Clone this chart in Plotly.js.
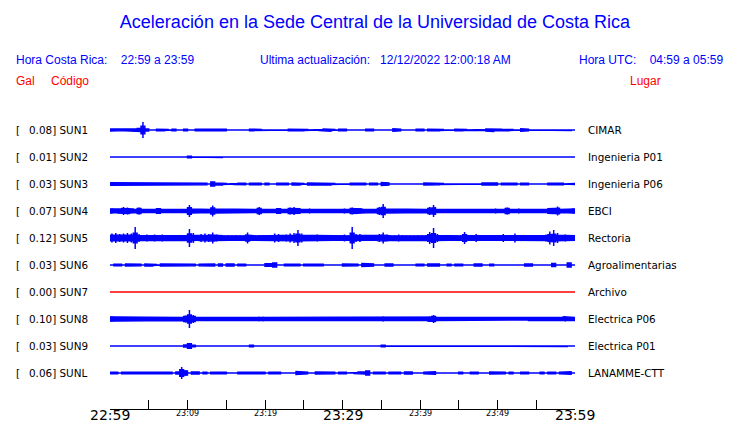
<!DOCTYPE html>
<html>
<head>
<meta charset="utf-8">
<script src="https://cdn.plot.ly/plotly-3.0.1.min.js"></script>
<style>html,body{margin:0;padding:0;background:#fff}#chart{width:740px;height:423px}</style>
</head>
<body>
<div id="chart"></div>
<script>
// ---------------- data ----------------
const stations = ['SUN1','SUN2','SUN3','SUN4','SUN5','SUN6','SUN7','SUN8','SUN9','SUNL'];
const peakGal = ['0.08','0.01','0.03','0.07','0.12','0.03','0.00','0.10','0.03','0.06'];
const places = ['CIMAR','Ingenieria P01','Ingenieria P06','EBCI','Rectoria','Agroalimentarias','Archivo','Electrica P06','Electrica P01','LANAMME-CTT'];
const tickMinutes = [0,5,10,15,20,25,30,35,40,45,50,55,60];
const tickLabels = ['22:59','','23:09','','23:19','','23:29','','23:39','','23:49','','23:59'];
const bigTicks = ['22:59','23:29','23:59'];
const binMinutes = 0.5; // envelope sampled every 30 s, 120 samples per station (Gal)

const SUN1 = [0.010,0.010,0.006,0.006,0.008,0.008,0.010,0.015,0.080,0.010,
 0,0,0.008,0.008,0.006,0,0.008,0,0,0.008,
 0,0,0.008,0.010,0.008,0.008,0.006,0.008,0.006,0.008,
 0,0,0,0,0.006,0,0.008,0.006,0.006,0,
 0.005,0.005,0,0.005,0.006,0,0.008,0.010,0.006,0.008,
 0.006,0,0,0,0.005,0.010,0.012,0.006,0,0.008,
 0.008,0,0,0.005,0,0,0.008,0.008,0,0.005,
 0.006,0,0,0.012,0.008,0,0.005,0,0,0.008,
 0.008,0,0.008,0.006,0.008,0.006,0,0,0,0.008,
 0.008,0.006,0,0,0.005,0,0.006,0.010,0.015,0.008,
 0.008,0.006,0.008,0.005,0,0,0.012,0.008,0,0.005,
 0,0,0,0.005,0,0,0.005,0,0.005,0];
const SUN2 = [0,0,0,0,0,0,0,0,0,0,
 0,0,0,0,0,0,0,0,0.004,0,
 0.008,0,0,0,0,0,0,0,0.006,0,
 0,0,0,0,0,0,0,0,0,0,
 0,0,0,0,0,0,0,0,0,0,
 0,0,0,0,0,0,0,0,0,0,
 0,0,0,0,0,0,0,0,0,0,
 0,0,0,0,0,0,0,0,0,0,
 0,0,0,0,0,0,0,0,0,0,
 0,0,0,0,0,0,0,0,0,0,
 0,0,0,0,0,0,0,0,0,0,
 0,0,0,0,0,0,0,0,0,0];
const SUN3 = [0.012,0.012,0.012,0.012,0.012,0.012,0.012,0.012,0.012,0.012,
 0.012,0.012,0.012,0.012,0.012,0.012,0.012,0.012,0.012,0.010,
 0.008,0.010,0.008,0.010,0.008,0,0.020,0.010,0.010,0.006,
 0,0,0.006,0.008,0.008,0,0.008,0.008,0.008,0,
 0.008,0,0,0.008,0.008,0.008,0,0.010,0.010,0.006,
 0,0.010,0.010,0.008,0.008,0.010,0.010,0.005,0,0.006,
 0.006,0,0.008,0.008,0.008,0.008,0,0.008,0.008,0,
 0.015,0.010,0,0.005,0,0.005,0.006,0,0,0,
 0,0.010,0.012,0.012,0.008,0.006,0,0.006,0.006,0.006,
 0,0.006,0.006,0,0,0,0.010,0.010,0.010,0.010,
 0,0.008,0.008,0.008,0.008,0,0.008,0.008,0,0.006,
 0,0,0,0.008,0.008,0.008,0.008,0,0.005,0.005];
const SUN4 = [0.025,0.015,0.020,0.040,0.035,0.020,0.015,0.035,0.015,0.015,
 0.015,0.015,0.030,0.015,0.020,0.015,0.015,0.020,0.015,0.015,
 0.060,0.020,0.015,0.020,0.015,0.015,0.055,0.020,0.015,0.015,
 0.020,0.015,0.015,0.015,0.015,0.020,0.015,0.015,0.040,0.015,
 0.015,0.015,0.015,0.030,0.015,0.015,0.035,0.040,0.030,0.015,
 0.015,0.025,0.015,0.015,0.020,0.015,0.015,0.015,0.020,0.015,
 0.025,0.015,0.035,0.030,0.025,0.015,0.015,0.015,0.015,0.040,
 0.070,0.020,0.015,0.015,0.015,0.018,0.015,0.015,0.015,0.020,
 0.015,0.015,0.040,0.060,0.015,0.015,0.020,0.015,0.015,0.015,
 0.015,0.020,0.015,0.015,0.015,0.015,0.015,0.015,0.015,0.025,
 0.015,0.015,0.035,0.015,0.015,0.025,0.015,0.015,0.015,0.015,
 0.020,0.015,0.015,0.030,0.025,0.045,0.015,0.015,0.015,0.025];
const SUN5 = [0.045,0.050,0.040,0.045,0.050,0.045,0.110,0.040,0.030,0.035,
 0.025,0.035,0.030,0.035,0.025,0.030,0.030,0.025,0.025,0.030,
 0.090,0.050,0.025,0.040,0.045,0.040,0.055,0.035,0.030,0.025,
 0.030,0.025,0.030,0.025,0.025,0.055,0.030,0.025,0.030,0.025,
 0.030,0.025,0.045,0.040,0.025,0.035,0.045,0.050,0.080,0.045,
 0.025,0.025,0.030,0.035,0.025,0.025,0.025,0.030,0.025,0.030,
 0.035,0.025,0.110,0.040,0.040,0.025,0.025,0.030,0.025,0.040,
 0.055,0.035,0.025,0.025,0.035,0.030,0.025,0.025,0.025,0.030,
 0.025,0.030,0.060,0.100,0.040,0.030,0.025,0.025,0.025,0.025,
 0.025,0.060,0.030,0.025,0.040,0.025,0.030,0.025,0.025,0.030,
 0.025,0.040,0.025,0.030,0.045,0.025,0.030,0.025,0.025,0.030,
 0.025,0.025,0.035,0.065,0.080,0.050,0.025,0.035,0.025,0.030];
const SUN6 = [0,0.008,0.008,0,0.010,0.008,0.008,0.008,0,0.010,
 0.010,0.006,0,0.010,0.010,0.010,0.008,0.010,0.010,0.008,
 0.008,0.008,0,0.008,0.008,0.010,0.010,0,0.010,0,
 0.010,0.010,0,0.008,0.008,0,0.006,0,0.006,0,
 0.012,0.012,0.020,0,0,0.008,0.008,0.008,0.008,0,
 0.008,0.008,0.008,0.008,0.008,0,0.005,0,0.005,0,
 0.010,0.008,0.008,0.008,0,0.015,0.010,0.010,0,0,
 0,0.010,0.010,0,0,0.006,0,0,0,0.008,
 0.008,0,0.010,0.015,0.010,0,0,0.008,0,0.008,
 0.008,0,0,0,0.010,0.010,0,0,0.008,0,
 0.006,0,0,0.006,0,0.006,0,0.010,0.010,0,
 0,0.005,0,0,0.015,0,0,0,0.020,0];
const SUN7 = [0,0,0,0,0,0,0,0,0,0,
 0,0,0,0,0,0,0,0,0,0,
 0,0,0,0,0,0,0,0,0,0,
 0,0,0,0,0,0,0,0,0,0,
 0,0,0,0,0,0,0,0,0,0,
 0,0,0,0,0,0,0,0,0,0,
 0,0,0,0,0,0,0,0,0,0,
 0,0,0,0,0,0,0,0,0,0,
 0,0,0,0,0,0,0,0,0,0,
 0,0,0,0,0,0,0,0,0,0,
 0,0,0,0,0,0,0,0,0,0,
 0,0,0,0,0,0,0,0,0,0];
const SUN8 = [0.025,0.020,0.015,0.020,0.015,0.018,0.015,0.020,0.020,0.015,
 0.020,0.020,0.018,0.015,0.020,0.015,0.015,0.020,0.015,0.035,
 0.090,0.040,0.015,0.020,0.015,0.015,0.020,0.015,0.020,0.015,
 0.015,0.015,0.015,0.015,0.015,0.015,0.018,0.020,0.022,0.022,
 0.020,0.015,0.015,0.015,0.015,0.015,0.015,0.015,0.015,0.015,
 0.015,0.015,0.015,0.020,0.015,0.015,0.020,0.015,0.015,0.015,
 0.015,0.015,0.015,0.015,0.015,0.015,0.015,0.015,0.015,0.015,
 0.025,0.015,0.015,0.015,0.015,0.015,0.015,0.015,0.015,0.015,
 0.015,0.015,0.025,0.040,0.015,0.015,0.015,0.015,0.015,0.015,
 0.015,0.015,0.015,0.015,0.015,0.015,0.015,0.015,0.015,0.015,
 0.015,0.015,0.015,0.015,0.015,0.015,0.015,0.010,0.015,0.015,
 0.015,0.015,0.015,0.015,0.015,0.015,0.015,0.025,0.015,0.015];
const SUN9 = [0,0,0,0,0,0,0,0,0.005,0,
 0,0.005,0,0,0,0,0,0.005,0,0.010,
 0.030,0.008,0,0,0,0,0,0,0.006,0,
 0,0.005,0,0,0,0,0.008,0,0,0,
 0,0,0,0.004,0,0,0,0,0,0,
 0,0,0,0,0,0,0,0,0,0,
 0,0,0,0,0,0,0,0,0,0,
 0.008,0,0,0,0,0,0,0,0,0,
 0,0,0,0.006,0,0,0,0,0,0,
 0,0,0.004,0,0,0,0,0,0,0.004,
 0,0,0,0,0,0,0,0,0,0,
 0,0,0,0,0,0,0,0.005,0,0];
const SUNL = [0.008,0.008,0,0.008,0.008,0.008,0.008,0.008,0.008,0.008,
 0.008,0.008,0.008,0.008,0.008,0.008,0,0.010,0.060,0.025,
 0,0.010,0.010,0,0.008,0,0.008,0.008,0.015,0.008,
 0,0.005,0,0.008,0.008,0.008,0.008,0.008,0.008,0.008,
 0,0.008,0.008,0.008,0,0.006,0.006,0,0.015,0.008,
 0.008,0,0,0.010,0.010,0.010,0.010,0.008,0,0.008,
 0.008,0,0,0.006,0.010,0.010,0.020,0,0.008,0.008,
 0.008,0,0.008,0.008,0.008,0,0.010,0.010,0,0,
 0,0.008,0.008,0.012,0,0.006,0,0,0.006,0,
 0.008,0,0,0.008,0.008,0,0,0,0.010,0.010,
 0.008,0.008,0,0.008,0,0,0.008,0.008,0,0,
 0,0.008,0,0.008,0.008,0,0.008,0.008,0.012,0];
const envelopes = [SUN1,SUN2,SUN3,SUN4,SUN5,SUN6,SUN7,SUN8,SUN9,SUNL];
const traceColors = ['blue','blue','blue','blue','blue','blue','red','blue','blue','blue'];

// ---------------- layout geometry ----------------
const W = 740, H = 423;
const L = 110, R = 575, T = 113, B = 409;
const rowStep = 0.27;           // Gal between stacked traces
const yTop = 0.17;
const yBottom = yTop - (B - T) / 100;
const px2x = px => (px - L) / (R - L);
const py2y = py => (B - py) / (B - T);
const BLUE = '#0000ff', RED = '#ff0000';
const colorMap = {blue: BLUE, red: RED};
const bodyCap = 0.02;   // envelope body grows slowly above this, peaks drawn as thin spikes
const body = a => a <= bodyCap ? a : bodyCap + (a - bodyCap) * 0.3;

const data = [];
envelopes.forEach((env, i) => {
  const off = -rowStep * i;
  const c = colorMap[traceColors[i]];
  // body: step band around the row baseline
  const xs = [], ys = [];
  env.forEach((a, j) => {
    const t = j * binMinutes;
    xs.push(t, t + binMinutes); ys.push(off + body(a), off + body(a));
  });
  for (let j = env.length - 1; j >= 0; j--) {
    const t = j * binMinutes;
    xs.push(t + binMinutes, t); ys.push(off - body(env[j]), off - body(env[j]));
  }
  xs.push(xs[0]); ys.push(ys[0]);
  data.push({type: 'scatter', mode: 'lines', x: xs, y: ys, fill: 'toself', fillcolor: c,
    line: {color: c, width: 1.4}, hoverinfo: 'skip', showlegend: false});
  // peaks: thin vertical strokes spanning the full amplitude
  const sx = [], sy = [];
  env.forEach((a, j) => {
    if (a <= bodyCap) return;
    const tc = (j + 0.5) * binMinutes;
    sx.push(tc, tc, null); sy.push(off - a, off + a, null);
  });
  if (sx.length) data.push({type: 'scatter', mode: 'lines', x: sx, y: sy,
    line: {color: c, width: 1.5}, hoverinfo: 'skip', showlegend: false});
});

const ann = [];
const hdr = (text, px, py, color, anchor) => ann.push({xref: 'paper', yref: 'paper',
  x: px2x(px), y: py2y(py), xanchor: anchor || 'left', yanchor: 'middle', showarrow: false,
  text: text, font: {family: 'Liberation Sans, Arial, sans-serif', size: 12, color: color}});
hdr('Hora Costa Rica:\u00a0\u00a0\u00a0 22:59 a 23:59', 14, 60, BLUE);
hdr('Ultima actualización:\u00a0\u00a0 12/12/2022 12:00:18 AM', 258, 60, BLUE);
hdr('Hora UTC:\u00a0\u00a0\u00a0 04:59 a 05:59', 725, 60, BLUE, 'right');
hdr('Gal', 14, 81, RED);
hdr('Código', 49, 81, RED);
hdr('Lugar', 663, 81, RED, 'right');

stations.forEach((s, i) => {
  const off = -rowStep * i;
  const f = {family: 'DejaVu Sans, sans-serif', size: 10.4, color: '#000'};
  ann.push({xref: 'paper', yref: 'y', x: px2x(14), y: off, xanchor: 'left', yanchor: 'middle',
    showarrow: false, text: '[', font: f});
  ann.push({xref: 'paper', yref: 'y', x: px2x(27), y: off, xanchor: 'left', yanchor: 'middle',
    showarrow: false, text: peakGal[i] + '] ' + s, font: f});
  ann.push({xref: 'paper', yref: 'y', x: px2x(586), y: off, xanchor: 'left', yanchor: 'middle',
    showarrow: false, text: places[i], font: f});
});

tickMinutes.forEach((m, k) => {
  const lab = tickLabels[k];
  if (!lab) return;
  const big = bigTicks.includes(lab);
  ann.push({xref: 'x', yref: 'paper', x: m, y: 0, xanchor: 'center', yanchor: 'middle',
    yshift: big ? -6 : -4, showarrow: false, text: lab,
    font: {family: 'DejaVu Sans, sans-serif', size: big ? 14 : 8, color: '#000'}});
});

const layout = {
  width: W, height: H,
  margin: {l: L, r: W - R, t: T, b: H - B, pad: 0},
  paper_bgcolor: '#fff', plot_bgcolor: '#fff',
  title: {text: 'Aceleración en la Sede Central de la Universidad de Costa Rica',
    xref: 'container', yref: 'container', x: 375 / W, y: 1 - 22 / H,
    xanchor: 'center', yanchor: 'middle',
    font: {family: 'Liberation Sans, Arial, sans-serif', size: 18, color: BLUE}},
  xaxis: {range: [0, 60], tickvals: tickMinutes, ticktext: tickLabels, showticklabels: false,
    ticks: 'inside', ticklen: 9, tickwidth: 1, tickcolor: '#000',
    showline: true, linecolor: '#000', linewidth: 1, showgrid: false, zeroline: false, fixedrange: true},
  yaxis: {range: [yBottom, yTop], visible: false, showgrid: false, zeroline: false, fixedrange: true},
  annotations: ann,
  showlegend: false
};
Plotly.newPlot('chart', data, layout, {staticPlot: true, displayModeBar: false});
</script>
</body>
</html>
